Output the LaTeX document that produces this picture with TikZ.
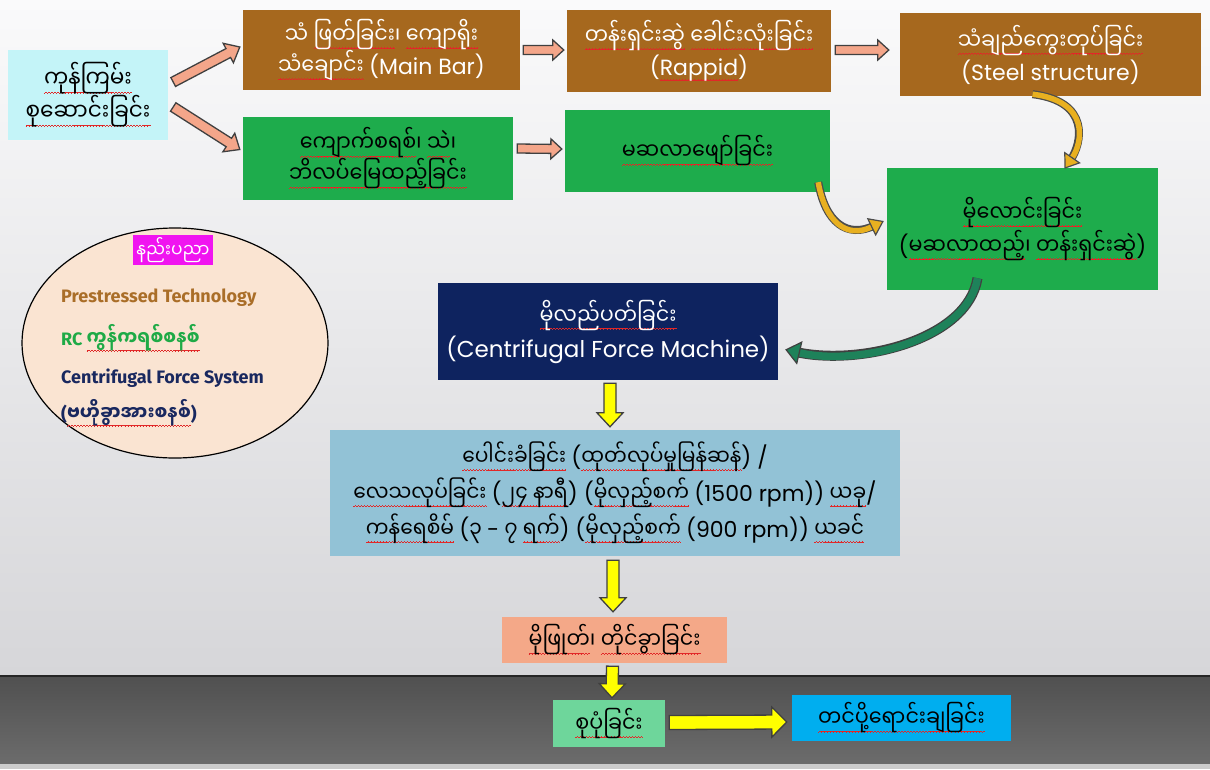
\documentclass[tikz,border=0pt]{standalone}
\usepackage{fontspec}
\setmainfont{Poppins}
\newfontfamily\mya[Script=Myanmar, FakeStretch=0.9]{Noto Sans Myanmar UI}
\newfontfamily\fira{Fira Sans}
\usetikzlibrary{calc,decorations.pathreplacing,arrows.meta,shapes.geometric}
\newcommand\latn[1]{{\rmfamily\fontsize{22}{30}\selectfont #1}}
\newcommand\fsz[2]{\fontsize{#1}{#2}\selectfont}
\definecolor{sqred}{RGB}{225,40,40}
\newsavebox\sqbox
\newcommand\sqpat{\hbox{\rule[-5.4pt]{0.75pt}{0.7pt}\rule[-4.9pt]{0.75pt}{0.7pt}\rule[-4.4pt]{0.75pt}{0.7pt}\rule[-4.9pt]{0.75pt}{0.7pt}}}
\newcommand\sq[1]{\sbox\sqbox{#1}\leavevmode\rlap{\color{sqred}\hbox to \wd\sqbox{\xleaders\sqpat\hfil}}\usebox\sqbox}
\definecolor{rawc}{RGB}{196,244,248}
\definecolor{brn}{RGB}{166,104,30}
\definecolor{grn}{RGB}{30,172,76}
\definecolor{navyc}{RGB}{14,35,95}
\definecolor{lblue}{RGB}{146,194,214}
\definecolor{salm}{RGB}{244,168,136}
\definecolor{lgrn}{RGB}{110,214,155}
\definecolor{cyn}{RGB}{0,174,239}
\definecolor{peach}{RGB}{250,228,210}
\definecolor{mag}{RGB}{240,20,240}
\definecolor{goldc}{RGB}{232,176,32}
\definecolor{dgrn}{RGB}{30,130,90}
\definecolor{arrs}{RGB}{244,166,138}
\definecolor{ptech}{RGB}{170,110,40}
\definecolor{rctext}{RGB}{30,170,70}
\definecolor{cftext}{RGB}{25,40,95}
\definecolor{ylw}{RGB}{255,255,0}
\tikzset{
  bx/.style={inner sep=0pt, align=center},
  etext/.style={anchor=west, inner sep=0pt, font=\fira\bfseries\fsz{18}{20}},
  baw/.store in=\baW, bah/.store in=\baH, bal/.store in=\baL, bac/.store in=\baC,
  baw=5pt, bah=11pt, bal=14pt, bac=arrs,
  barrow/.style={decorate, decoration={show path construction,
    lineto code={
      \coordinate (bS) at (\tikzinputsegmentfirst);
      \coordinate (bE) at (\tikzinputsegmentlast);
      \coordinate (bM) at ($(bE)!\baL!(bS)$);
      \draw[fill=\baC, draw=black!75, line width=1.3pt, line join=miter]
        ($(bS)!\baW!90:(bE)$) -- ($(bM)!\baW!-90:(bS)$) -- ($(bM)!\baH!-90:(bS)$) -- (bE)
        -- ($(bM)!\baH!90:(bS)$) -- ($(bM)!\baW!90:(bS)$) -- ($(bS)!\baW!-90:(bE)$) -- cycle;
    }}},
  sarrow/.style={barrow, bac=arrs, baw=5pt, bah=11pt, bal=13pt},
  yarrow/.style={barrow, bac=ylw, baw=6pt, bah=13pt, bal=14pt},
}
\begin{document}
\begin{tikzpicture}[x=1pt,y=-1pt]
\useasboundingbox (0,0) rectangle (1210,769);
\shade[top color={rgb,255:red,250;green,250;blue,251}, bottom color={rgb,255:red,214;green,214;blue,217}] (0,0) rectangle (1210,676);
\shade[top color={rgb,255:red,80;green,80;blue,80}, bottom color={rgb,255:red,108;green,108;blue,108}] (0,676) rectangle (1210,764);
\fill[gray!40] (0,764) rectangle (1210,769);
\draw[black!85, line width=1.5pt] (0,676) -- (1210,676);

% ellipse
\draw[line width=1.2pt, fill=peach] (175,343) ellipse [x radius=153, y radius=115];
\node[fill=mag, text=white, font=\mya\fsz{19}{20}, minimum width=80pt, minimum height=30pt, inner sep=0pt] (tl) at (173,250) {နည်းပညာ};
\node[etext, text=ptech] (t1) at (61,298) {Prestressed Technology};
\node[etext, text=rctext] (t2) at (61,338) {RC {\mya\fsz{20}{20}\sq{ကွန်ကရစ်စနစ်}}};
\node[etext, text=cftext] (t3) at (61,378) {Centrifugal Force System};
\node[etext, text=cftext] (t4) at (61,413) {({\mya\fsz{20}{20}\sq{ဗဟိုခွာအားစနစ်}})};

% boxes
\node[bx, fill=rawc, minimum width=160pt, minimum height=90pt, font=\mya\fsz{24}{33}] (raw) at (88,95) {\sq{ကုန်ကြမ်း}\\\sq{စုဆောင်းခြင်း}};
\node[bx, fill=brn, text=white, minimum width=277pt, minimum height=80pt, font=\mya\fsz{23}{31}] (b1) at (381.5,50) {သံ \sq{ဖြတ်ခြင်း}၊ \sq{ကျောရိုး}\\\sq{သံချောင်း} \latn{(Main Bar)}};
\node[bx, fill=brn, text=white, minimum width=264pt, minimum height=82pt, font=\mya\fsz{23}{31}] (b2) at (699,51) {\sq{တန်းရှင်းဆွဲ} \sq{ခေါင်းလုံးခြင်း}\\\latn{(\sq{Rappid})}};
\node[bx, fill=brn, text=white, minimum width=301pt, minimum height=83pt, font=\mya\fsz{23}{31}] (b3) at (1050.5,54.5) {\sq{သံချည်ကွေးတုပ်ခြင်း}\\\latn{(Steel structure)}};
\node[bx, fill=grn, minimum width=270pt, minimum height=83pt, font=\mya\fsz{23}{31}] (g1) at (378,158.5) {\sq{ကျောက်စရစ်}၊ \sq{သဲ}၊\\\sq{ဘိလပ်မြေထည့်ခြင်း}};
\node[bx, fill=grn, minimum width=265pt, minimum height=82pt, font=\mya\fsz{23}{31}] (g2) at (697.5,151) {\sq{မဆလာဖျော်ခြင်း}};
\node[bx, fill=grn, minimum width=271pt, minimum height=122pt, font=\mya\fsz{23}{33}] (g3) at (1022.5,229) {\sq{မိုလောင်းခြင်း}\\\latn{(}\sq{မဆလာထည့်}၊ \sq{တန်းရှင်းဆွဲ}\latn{)}};
\node[bx, fill=navyc, text=white, minimum width=340pt, minimum height=97pt, font=\mya\fsz{23}{33}] (nav) at (608,331.5) {\sq{မိုလည်ပတ်ခြင်း}\\{\rmfamily\fsz{23}{33}(Centrifugal Force Machine)}};
\node[bx, fill=lblue, minimum width=570pt, minimum height=126pt, font=\mya\fsz{22.5}{36}] (lb) at (615,493) {\sq{ပေါင်းခံခြင်း} \latn{(}\sq{ထုတ်လုပ်မှုမြန်ဆန်}\latn{) /}\\\sq{လေသလုပ်ခြင်း} \latn{(}\sq{၂၄ နာရီ}\latn{) (}\sq{မိုလှည့်စက်} \latn{(1500 rpm))} \sq{ယခု}\latn{/}\\\sq{ကန်ရေစိမ်} \latn{(}၃ \latn{-} ၇ \sq{ရက်}\latn{) (}\sq{မိုလှည့်စက်} \latn{(900 rpm))} \sq{ယခင်}};
\node[bx, fill=salm, minimum width=225pt, minimum height=46pt, font=\mya\fsz{23}{30}] (salmn) at (614.5,640) {\sq{မိုဖြုတ်}၊ \sq{တိုင်ခွာခြင်း}};
\node[bx, fill=lgrn, minimum width=112pt, minimum height=47pt, font=\mya\fsz{23}{30}] (lg) at (609,723.5) {\sq{စုပုံခြင်း}};
\node[bx, fill=cyn, minimum width=219pt, minimum height=46pt, font=\mya\fsz{23}{30}] (cy) at (901.5,718) {\sq{တင်ပို့ရောင်းချခြင်း}};

% straight block arrows
\path[sarrow] ($(raw.east)+(5,-13)$) -- ($(b1.west)+(-3,-3)$);
\path[sarrow] ($(raw.east)+(5,12)$) -- ($(g1.west)+(-3,-9)$);
\path[sarrow, baw=4.5pt, bah=10pt, bal=11pt] ($(b1.east)+(3,0)$) -- ($(b2.west)+(-3,-1)$);
\path[sarrow, baw=4.5pt, bah=10pt, bal=11pt] ($(b2.east)+(4,-1)$) -- ($(b3.west)+(-11,-4.5)$);
\path[sarrow, baw=4.5pt, bah=10pt, bal=11pt] ($(g1.east)+(4,-10)$) -- ($(g2.west)+(-3,-2)$);
\path[yarrow] ($(nav.south)+(2,3)$) -- ($(lb.north)+(-5,-3)$);
\path[yarrow] ($(lb.south)+(-2,4)$) -- ($(salmn.north)+(-1.5,-5)$);
\path[yarrow] ($(salmn.south)+(-2,3)$) -- ($(lg.north)+(3,-2)$);
\path[yarrow, baw=7pt, bah=15pt, bal=15pt] ($(lg.east)+(4,-1)$) -- ($(cy.west)+(-5,4)$);

% curved arrows
\draw[black!70, line width=8pt, shorten >=10pt] ($(b3.south)+(-18,-2)$) .. controls ($(b3.south)+(40,5)$) and ($(g3.north)+(60,-25)$) .. ($(g3.north)+(42,1)$);
\draw[goldc, line width=5.5pt, -{Triangle[length=14pt,width=20pt,line width=1.2pt,fill=goldc,color=black!70]}] ($(b3.south)+(-18,-2)$) .. controls ($(b3.south)+(40,5)$) and ($(g3.north)+(60,-25)$) .. ($(g3.north)+(42,1)$);

\draw[black!70, line width=8pt, shorten >=10pt] ($(g2.south east)+(-12,-10)$) .. controls ($(g2.south east)+(-5,30)$) and ($(g3.west)+(-40,10)$) .. ($(g3.west)+(-3,-8)$);
\draw[goldc, line width=5.5pt, -{Triangle[length=14pt,width=20pt,line width=1.2pt,fill=goldc,color=black!70]}] ($(g2.south east)+(-12,-10)$) .. controls ($(g2.south east)+(-5,30)$) and ($(g3.west)+(-40,10)$) .. ($(g3.west)+(-3,-8)$);

\draw[black!75, line width=10pt, shorten >=10pt] ($(g3.south)+(-45,-12)$) .. controls ($(g3.south)+(-55,50)$) and ($(nav.east)+(80,35)$) .. ($(nav.east)+(7,18)$);
\draw[dgrn, line width=7.5pt, -{Triangle[length=15pt,width=24pt,line width=1.2pt,fill=dgrn,color=black!75]}] ($(g3.south)+(-45,-12)$) .. controls ($(g3.south)+(-55,50)$) and ($(nav.east)+(80,35)$) .. ($(nav.east)+(7,18)$);
\end{tikzpicture}
\end{document}
